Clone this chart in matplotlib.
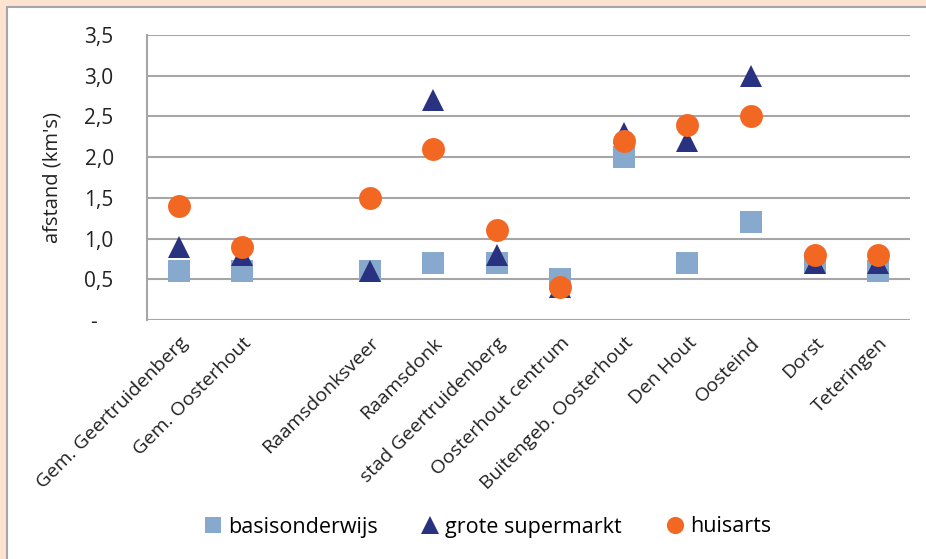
import numpy as np
import matplotlib
matplotlib.use("Agg")
import matplotlib.pyplot as plt
from matplotlib.patches import Rectangle

# ---- data (afstand in km) ----
categories = ["Gem. Geertruidenberg", "Gem. Oosterhout", "", "Raamsdonksveer",
              "Raamsdonk", "stad Geertruidenberg", "Oosterhout centrum",
              "Buitengeb. Oosterhout", "Den Hout", "Oosteind", "Dorst", "Teteringen"]
basisonderwijs = [0.6, 0.6, np.nan, 0.6, 0.7, 0.7, 0.5, 2.0, 0.7, 1.2, 0.7, 0.6]
supermarkt     = [0.9, 0.8, np.nan, 0.6, 2.7, 0.8, 0.4, 2.3, 2.2, 3.0, 0.7, 0.7]
huisarts       = [1.4, 0.9, np.nan, 1.5, 2.1, 1.1, 0.4, 2.2, 2.4, 2.5, 0.8, 0.8]
yticks = [0, 0.5, 1.0, 1.5, 2.0, 2.5, 3.0, 3.5]
ytick_labels = ["-   ", "0,5", "1,0", "1,5", "2,0", "2,5", "3,0", "3,5"]

plt.rcParams["font.family"] = ["Open Sans", "DejaVu Sans"]

fig = plt.figure(figsize=(9.26, 5.59), dpi=100)
fig.patch.set_facecolor("#FDE3D0")
# white panel with grey border on the left/top
fig.patches.append(Rectangle((7 / 926, -0.01), 1.0, 1 - 7 / 559 + 0.01,
                             transform=fig.transFigure, facecolor="white",
                             edgecolor="#A6A6A6", linewidth=1.5, zorder=-10))

ax = fig.add_axes([147 / 926, 1 - 320 / 559, (910 - 147) / 926, (320 - 35) / 559])
ax.set_facecolor("white")
x = np.arange(len(categories))
ax.plot(x, basisonderwijs, "s", color="#87A9CD", ms=16, mew=0, label="basisonderwijs", zorder=3)
ax.plot(x, supermarkt, "^", color="#283280", ms=16.5, mew=0, label="grote supermarkt", zorder=4)
ax.plot(x, huisarts, "o", color="#F26722", ms=16.5, mew=0, label="huisarts", zorder=5)

ax.set_xlim(-0.5, len(categories) - 0.5)
ax.set_ylim(0, 3.5)
ax.set_yticks(yticks)
ax.set_yticklabels(ytick_labels, fontsize=15, color="#222222")
ax.tick_params(axis="y", length=0, pad=24)
ax.set_xticks(x)
ax.set_xticklabels(categories, rotation=45, ha="right", rotation_mode="anchor",
                   fontsize=14, color="#222222")
ax.tick_params(axis="x", length=0, pad=10)
ax.grid(axis="y", color="#A6A6A6", linewidth=1.5)
ax.set_axisbelow(True)
for s in ["top", "right", "bottom"]:
    ax.spines[s].set_visible(False)
ax.spines["left"].set_color("#A6A6A6")
ax.spines["left"].set_linewidth(1.5)
ax.set_ylabel("afstand (km's)", fontsize=14.5, color="#222222", labelpad=16)

leg = fig.legend(loc="center", bbox_to_anchor=(487 / 926, 1 - 527 / 559), ncol=3,
                 frameon=False, fontsize=15.5, markerscale=0.75, handletextpad=0.25,
                 columnspacing=2.0, handlelength=0.9)

fig.savefig("out.png", dpi=100, facecolor=fig.get_facecolor())
